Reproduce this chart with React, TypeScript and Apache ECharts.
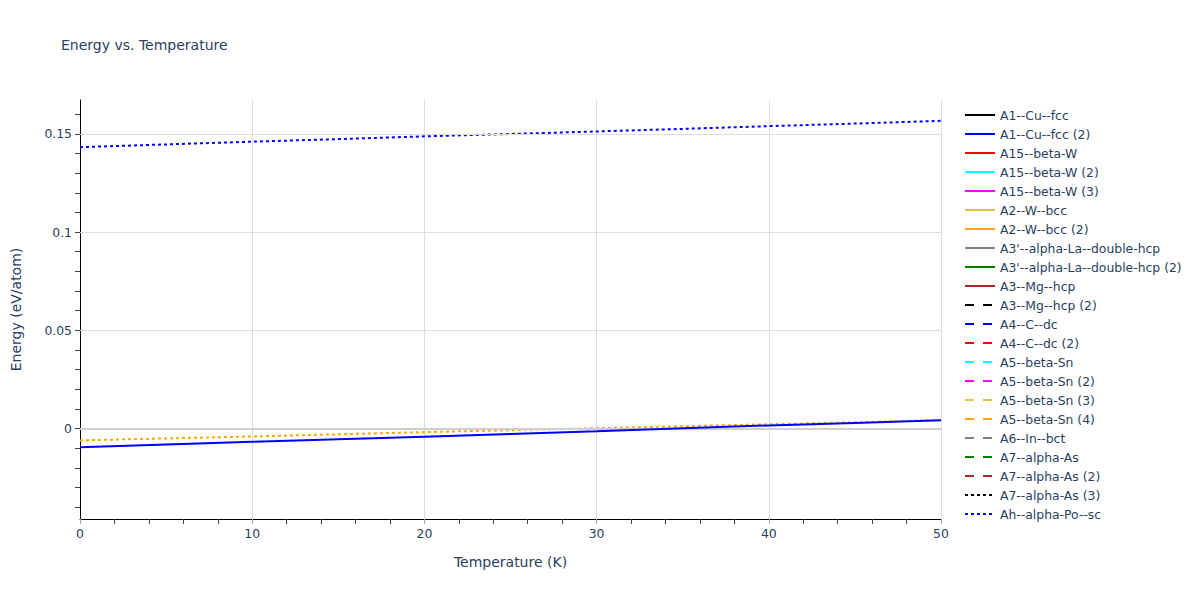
import React, { useEffect, useRef } from "react";
import * as echarts from "echarts";

const temperatures = [0, 5, 10, 15, 20, 25, 30, 35, 40, 45, 50];

const seriesNames = [
  "A1--Cu--fcc",
  "A1--Cu--fcc (2)",
  "A15--beta-W",
  "A15--beta-W (2)",
  "A15--beta-W (3)",
  "A2--W--bcc",
  "A2--W--bcc (2)",
  "A3'--alpha-La--double-hcp",
  "A3'--alpha-La--double-hcp (2)",
  "A3--Mg--hcp",
  "A3--Mg--hcp (2)",
  "A4--C--dc",
  "A4--C--dc (2)",
  "A5--beta-Sn",
  "A5--beta-Sn (2)",
  "A5--beta-Sn (3)",
  "A5--beta-Sn (4)",
  "A6--In--bct",
  "A7--alpha-As",
  "A7--alpha-As (2)",
  "A7--alpha-As (3)",
  "Ah--alpha-Po--sc",
];

const hiddenSeriesName = "Ah--alpha-Po--sc (hidden)";

const palette = [
  "#000000",
  "#0000ff",
  "#ff0000",
  "#00ffff",
  "#ff00ff",
  "#e6c440",
  "#ffa500",
  "#808080",
  "#008000",
  "#a52a2a",
];

// values (eV/atom)
const cuFcc2Values = [-0.0095, -0.0081, -0.0067, -0.0054, -0.0041, -0.0027, -0.0014, 0.0002, 0.0016, 0.0029, 0.0042];
const alphaPoScValues = [0.1432, 0.1446, 0.146, 0.1473, 0.1487, 0.1499, 0.1512, 0.1525, 0.1539, 0.1552, 0.1566];
const orangeDottedValues = [-0.006, -0.005, -0.004, -0.0029, -0.0018, -0.0008, 0.0002, 0.0012, 0.0022, 0.0032, 0.0043];

const yLabelValues = [0, 0.05, 0.1, 0.15];
const yGridValues = [0.05, 0.1, 0.15];
const yTickValues = [-0.04, -0.03, -0.02, -0.01, 0, 0.01, 0.02, 0.03, 0.04, 0.05, 0.06, 0.07, 0.08, 0.09, 0.1, 0.11, 0.12, 0.13, 0.14, 0.15, 0.16];

const dataByName: Record<string, number[]> = {
  "A1--Cu--fcc (2)": cuFcc2Values,
  "Ah--alpha-Po--sc": alphaPoScValues,
};

const FONT = "'DejaVu Sans', Verdana, sans-serif";
const TEXT = "#2a3f5f";

function dashFor(i: number): any {
  const g = Math.floor(i / 10);
  if (g === 0) return "solid";
  if (g === 1) return [9, 9];
  return [3, 3];
}

export default function App() {
  const ref = useRef<HTMLDivElement>(null);

  useEffect(() => {
    if (!ref.current) return;
    const chart = echarts.init(ref.current, null, { renderer: "svg" });

    const series: any[] = seriesNames.map((name, i) => {
      const vals = dataByName[name] || [];
      return {
        name,
        type: "line",
        symbol: "none",
        showSymbol: false,
        data: vals.map((v, k) => [temperatures[k], v]),
        lineStyle: { color: palette[i % 10], width: 2, type: dashFor(i) },
        itemStyle: { color: palette[i % 10] },
        z: name === "A1--Cu--fcc (2)" ? 5 : 3,
      };
    });

    series.push({
      name: hiddenSeriesName,
      type: "line",
      symbol: "none",
      showSymbol: false,
      data: orangeDottedValues.map((v, k) => [temperatures[k], v]),
      lineStyle: { color: palette[6], width: 2, type: [3, 3] },
      itemStyle: { color: palette[6] },
      z: 4,
    });

    series.push({
      name: "__grid",
      type: "line",
      data: [],
      markLine: {
        silent: true,
        symbol: "none",
        label: { show: false },
        lineStyle: { color: "#dddddd", width: 1, type: "solid" },
        data: [
          ...yGridValues.map((v) => ({ yAxis: v })),
          { yAxis: 0, lineStyle: { color: "#d0d0d0", width: 2, type: "solid" } },
        ],
      },
      z: 1,
    });

    chart.setOption({
      animation: false,
      backgroundColor: "#ffffff",
      title: {
        text: "Energy vs. Temperature",
        left: 56,
        top: 33,
        textStyle: { fontFamily: FONT, fontSize: 14, fontWeight: "normal", color: TEXT },
      },
      legend: {
        data: seriesNames,
        orient: "vertical",
        left: 959,
        top: 104,
        itemWidth: 30,
        itemHeight: 14,
        itemGap: 7,
        itemStyle: { opacity: 0 },
        textStyle: { fontFamily: FONT, fontSize: 12.4, color: TEXT },
      },
      grid: { left: 80, right: 259, top: 100, bottom: 81, containLabel: false },
      xAxis: {
        type: "value",
        min: 0,
        max: 50,
        interval: 10,
        name: "Temperature (K)",
        nameLocation: "middle",
        nameGap: 36,
        nameTextStyle: { fontFamily: FONT, fontSize: 14, color: TEXT },
        axisLine: { show: true, onZero: false, lineStyle: { color: "#000", width: 1 } },
        axisTick: { show: true, length: 5, lineStyle: { color: "#aaaaaa" } },
        minorTick: { show: true, splitNumber: 5, length: 5, lineStyle: { color: "#444444" } },
        axisLabel: { fontFamily: FONT, fontSize: 12.4, color: TEXT, margin: 8 },
        splitLine: { show: true, lineStyle: { color: "#dddddd", width: 1 } },
      },
      yAxis: {
        type: "value",
        min: -0.046,
        max: 0.1672,
        name: "Energy (eV/atom)",
        nameLocation: "middle",
        nameGap: 57,
        nameTextStyle: { fontFamily: FONT, fontSize: 14, color: TEXT },
        axisLine: { show: true, onZero: false, lineStyle: { color: "#000", width: 1 } },
        axisTick: { show: true, length: 5, customValues: yTickValues, lineStyle: { color: "#444444" } },
        axisLabel: { fontFamily: FONT, fontSize: 12.4, color: TEXT, margin: 8, customValues: yLabelValues },
        splitLine: { show: false },
      },
      series,
    });

    return () => chart.dispose();
  }, []);

  return <div ref={ref} style={{ width: 1200, height: 600, margin: -8 }} />;
}
